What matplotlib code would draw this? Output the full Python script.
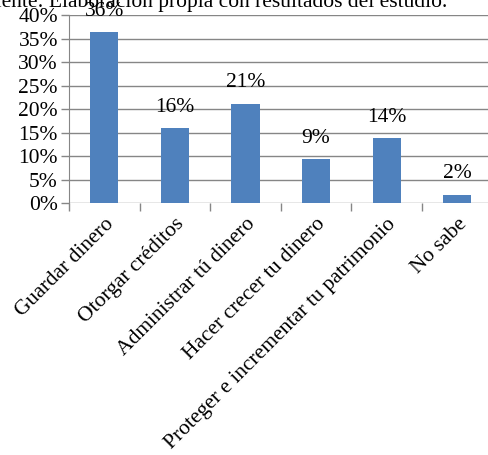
import numpy as np
import matplotlib.pyplot as plt

categorias = ['Guardar dinero', 'Otorgar créditos', 'Administrar tú dinero',
              'Hacer crecer tu dinero', 'Proteger e incrementar tu patrimonio', 'No sabe']
valores = [36.3, 16.1, 21.2, 9.4, 13.8, 1.9]
etiquetas = ['36%', '16%', '21%', '9%', '14%', '2%']
yticks = [0, 5, 10, 15, 20, 25, 30, 35, 40]

plt.rcParams['font.family'] = ['Liberation Serif', 'DejaVu Serif']
gris = '#868686'
fs = 15.5

fig = plt.figure(figsize=(4.88, 4.55), dpi=100)
ax = fig.add_axes([69 / 488, 251.5 / 455, 423.6 / 488, 188.5 / 455])

x = np.arange(len(categorias))
ax.bar(x, valores, width=0.4, color='#4F81BD', zorder=3)
for xi, v, t in zip(x, valores, etiquetas):
    ax.annotate(t, (xi, v), xytext=(0, 8), textcoords='offset points',
                ha='center', va='bottom', fontsize=fs, zorder=4)

ax.set_xlim(-0.5, len(categorias) - 0.5)
ax.set_ylim(0, 40)
ax.set_yticks(yticks)
ax.set_yticklabels([f'{t}%' for t in yticks], fontsize=fs)
ax.yaxis.grid(True, color=gris, linewidth=1, zorder=0)

ax.set_xticks(np.arange(len(categorias) + 1) - 0.5, minor=False)
ax.set_xticklabels([])
ax.set_xticks(x, minor=True)
ax.set_xticklabels(categorias, minor=True, rotation=45, ha='right',
                   rotation_mode='anchor', fontsize=fs)
ax.tick_params(axis='x', which='minor', length=0, pad=8)
ax.tick_params(axis='x', which='major', length=6, color=gris, width=1)
ax.tick_params(axis='y', length=6, color=gris, width=1, pad=2)

for s in ['top', 'right', 'bottom']:
    ax.spines[s].set_visible(False)
ax.spines['left'].set_color(gris)

fig.text(447 / 488, 448 / 455, 'Fuente: Elaboración propia con resultados del estudio.',
         ha='right', va='baseline', fontsize=fs)

fig.savefig('out.png', dpi=100)
